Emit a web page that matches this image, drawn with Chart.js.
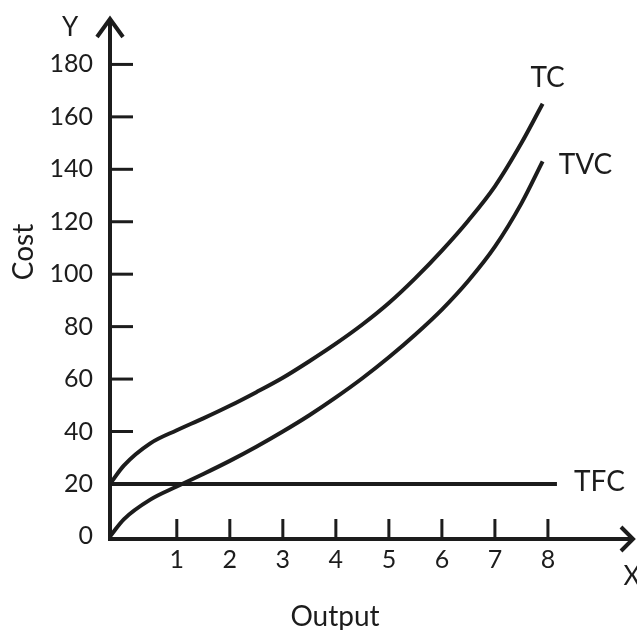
<!DOCTYPE html>
<html><head><meta charset="utf-8">
<script src="https://cdn.jsdelivr.net/npm/chart.js@4.4.1/dist/chart.umd.min.js"></script>
<style>html,body{margin:0;padding:0;background:#fff;overflow:hidden}canvas{display:block}</style>
</head><body>
<canvas id="c" width="637" height="630"></canvas>
<script>
// ---- data ----
const output   = [-0.26, 0, 0.5, 1, 1.5, 2, 2.5, 3, 3.5, 4, 4.5, 5, 5.5, 6, 6.5, 7, 7.5, 7.9];
const tcCost   = [20, 27, 35.5, 40.5, 45, 49.8, 55, 60.5, 66.8, 73.5, 80.8, 89, 98.5, 109, 120.5, 133.5, 150, 165];
const tvcCost  = [0, 6.5, 14, 19, 23.8, 28.8, 34.2, 40, 46.2, 53, 60.3, 68.3, 77, 86.5, 97.5, 110.5, 127, 143];
const tfcOutput = [-0.26, 8.17];
const tfcCost   = [20, 20];
const xTickValues = [1, 2, 3, 4, 5, 6, 7, 8];
const yTickValues = [0, 20, 40, 60, 80, 100, 120, 140, 160, 180];
const seriesNames = ['TC', 'TVC', 'TFC'];
const xAxisTitle = 'Output';
const yAxisTitle = 'Cost';
const xAxisLetter = 'X';
const yAxisLetter = 'Y';

const INK = '#1c1c1c';
const FONT = 'Lato, "Open Sans", sans-serif';

const pts = (xs, ys) => xs.map((v, i) => ({ x: v, y: ys[i] }));

const decor = {
  id: 'decor',
  beforeDatasetsDraw(chart) {
    const { ctx, chartArea: a, scales: { x, y } } = chart;
    ctx.save();
    ctx.strokeStyle = INK;
    ctx.lineCap = 'butt';
    // tick marks (inside the plot)
    ctx.lineWidth = 3;
    yTickValues.forEach(v => {
      if (v === 0) return;
      const py = y.getPixelForValue(v);
      ctx.beginPath(); ctx.moveTo(a.left, py); ctx.lineTo(a.left + 23, py); ctx.stroke();
    });
    xTickValues.forEach(v => {
      const px = x.getPixelForValue(v);
      ctx.beginPath(); ctx.moveTo(px, a.bottom); ctx.lineTo(px, a.bottom - 20); ctx.stroke();
    });
    // axes
    ctx.lineWidth = 4;
    ctx.beginPath(); ctx.moveTo(a.left, a.bottom + 2); ctx.lineTo(a.left, a.top + 4); ctx.stroke();
    ctx.beginPath(); ctx.moveTo(a.left - 2, a.bottom); ctx.lineTo(a.right - 4, a.bottom); ctx.stroke();
    // arrow heads
    ctx.lineJoin = 'miter';
    ctx.beginPath();
    ctx.moveTo(a.left - 13, a.top + 22); ctx.lineTo(a.left, a.top + 4); ctx.lineTo(a.left + 13, a.top + 22);
    ctx.stroke();
    ctx.beginPath();
    ctx.moveTo(a.right - 16, a.bottom - 12); ctx.lineTo(a.right - 4, a.bottom); ctx.lineTo(a.right - 16, a.bottom + 12);
    ctx.stroke();
    ctx.restore();
  },
  afterDraw(chart) {
    const { ctx, chartArea: a, scales: { x, y } } = chart;
    ctx.save();
    ctx.fillStyle = INK;
    ctx.textBaseline = 'middle';
    // series labels next to the curve ends
    ctx.font = '28px ' + FONT;
    const endOf = ds => ds.data[ds.data.length - 1];
    const dTC = endOf(chart.data.datasets[0]);
    const dTVC = endOf(chart.data.datasets[1]);
    const dTFC = endOf(chart.data.datasets[2]);
    ctx.textAlign = 'center';
    ctx.fillText(seriesNames[0], x.getPixelForValue(dTC.x) + 5, y.getPixelForValue(dTC.y) - 26);
    ctx.textAlign = 'left';
    ctx.fillText(seriesNames[1], x.getPixelForValue(dTVC.x) + 16, y.getPixelForValue(dTVC.y) + 4);
    ctx.fillText(seriesNames[2], x.getPixelForValue(dTFC.x) + 17, y.getPixelForValue(dTFC.y) - 2);
    // axis letters
    ctx.textAlign = 'center';
    ctx.font = '26px ' + FONT;
    ctx.fillText(yAxisLetter, a.left - 40, a.top + 13);
    ctx.fillText(xAxisLetter, a.right - 5, a.bottom + 38);
    // axis titles
    ctx.font = '28px ' + FONT;
    ctx.fillText(xAxisTitle, 335, a.bottom + 78);
    ctx.save();
    ctx.translate(24, 252);
    ctx.rotate(-Math.PI / 2);
    ctx.fillText(yAxisTitle, 0, 0);
    ctx.restore();
    ctx.restore();
  }
};

const lineStyle = {
  borderColor: INK, borderWidth: 4, pointRadius: 0, fill: false,
  cubicInterpolationMode: 'monotone', borderCapStyle: 'butt'
};

new Chart(document.getElementById('c'), {
  type: 'line',
  data: {
    datasets: [
      Object.assign({ label: seriesNames[0], data: pts(output, tcCost) }, lineStyle),
      Object.assign({ label: seriesNames[1], data: pts(output, tvcCost) }, lineStyle),
      Object.assign({ label: seriesNames[2], data: pts(tfcOutput, tfcCost) }, lineStyle, { cubicInterpolationMode: 'default', tension: 0 })
    ]
  },
  options: {
    responsive: false,
    animation: false,
    devicePixelRatio: 1,
    layout: { padding: { top: 15, right: 0, left: 0, bottom: 0 } },
    plugins: { legend: { display: false }, tooltip: { enabled: false } },
    scales: {
      x: {
        type: 'linear', min: -0.26, max: 9.68,
        grid: { display: false, drawTicks: false }, border: { display: false },
        afterBuildTicks: s => { s.ticks = xTickValues.map(v => ({ value: v })); },
        afterFit: s => { s.height = 91; s.paddingLeft = 0; s.paddingRight = 0; },
        ticks: { color: INK, font: { family: FONT, size: 25 }, padding: 6, maxRotation: 0, autoSkip: false }
      },
      y: {
        type: 'linear', min: -1, max: 198.85,
        grid: { display: false, drawTicks: false }, border: { display: false },
        afterBuildTicks: s => { s.ticks = yTickValues.map(v => ({ value: v })); },
        afterFit: s => { s.width = 110; s.paddingTop = 0; s.paddingBottom = 0; },
        ticks: { color: INK, font: { family: FONT, size: 25 }, padding: 17, autoSkip: false }
      }
    }
  },
  plugins: [decor]
});
</script>
</body></html>
